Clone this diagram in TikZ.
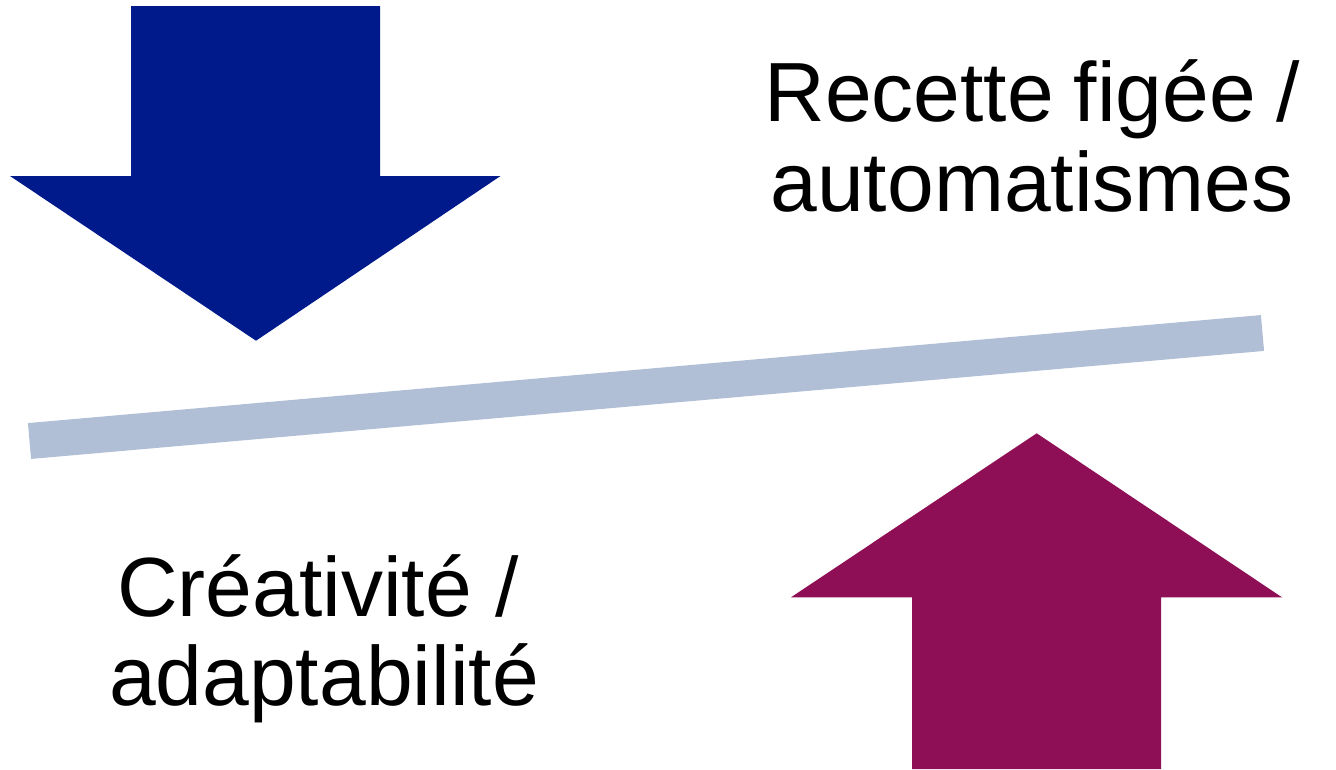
\documentclass[tikz,border=0pt]{standalone}
\usepackage{fontspec}
\setmainfont{Liberation Sans}
\definecolor{arrowblue}{RGB}{0,25,139}
\definecolor{arrowpurple}{RGB}{142,15,86}
\definecolor{barblue}{RGB}{176,191,214}
\begin{document}
\begin{tikzpicture}[x=1pt,y=-1pt,
  bigtext/.style={inner sep=0pt,anchor=base,font=\fontsize{84}{90}\selectfont}]
\useasboundingbox (0,0) rectangle (1336,769);
% blue down arrow
\fill[arrowblue] (131,6) -- (380,6) -- (380,176) -- (500.5,176) -- (256,340.7)
  -- (10,176) -- (131,176) -- cycle;
% purple up arrow
\fill[arrowpurple] (1036.7,433.3) -- (1282,597.3) -- (1161,597.3) -- (1161,769)
  -- (912,769) -- (912,597.3) -- (791,597.3) -- cycle;
% bar
\coordinate (barL) at (29.5,441);
\coordinate (barR) at (1262.5,333);
\draw[barblue,line width=36pt] (barL) -- (barR);
% texts
\node[bigtext] (t1) at (1032,121) {Recette\hspace{-0.04em} figée\hspace{-0.04em} /};
\node[bigtext] (t2) at (1032,211) {automatismes};
\node[bigtext] (b1) at (318,616) {Créativité /};
\node[bigtext] (b2) at (324,705) {adaptabilité};
\end{tikzpicture}
\end{document}
